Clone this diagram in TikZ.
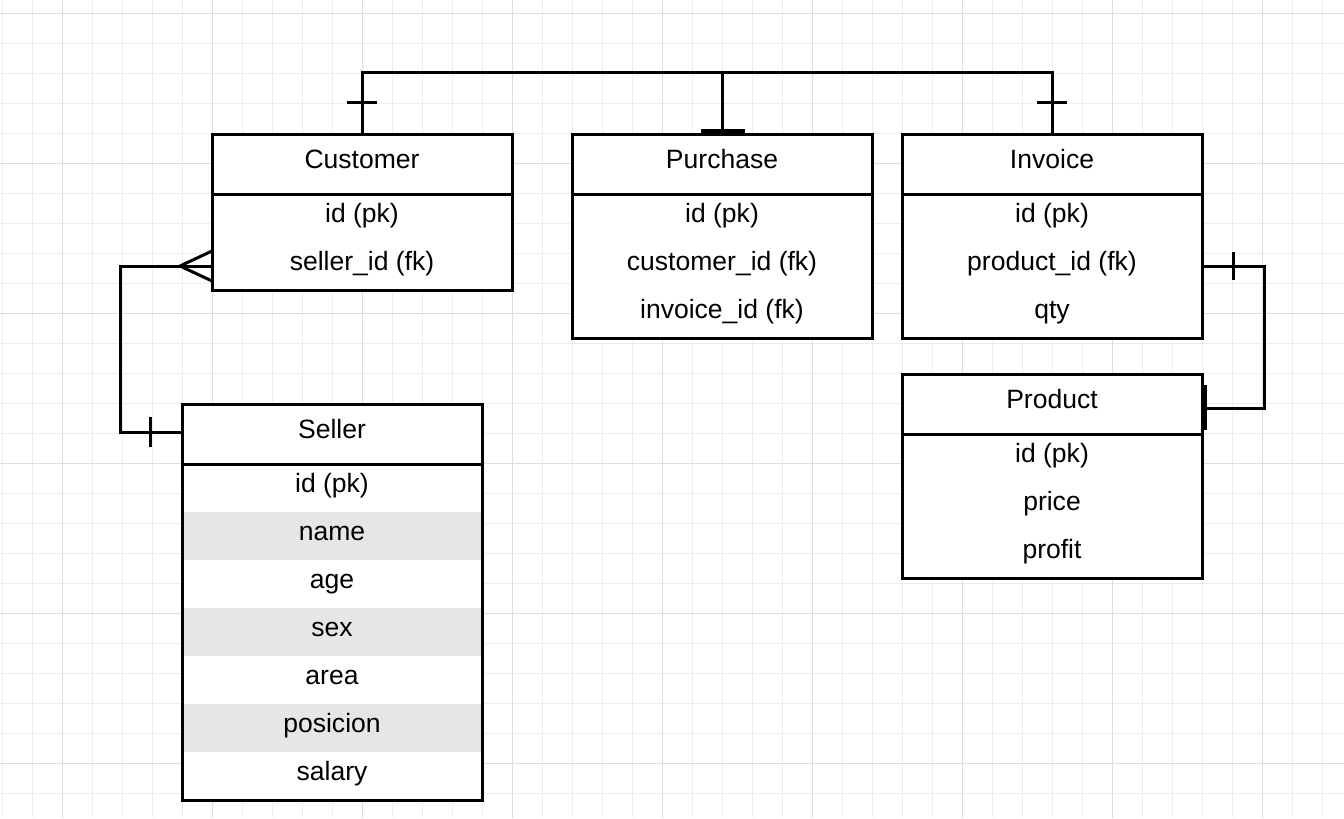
\documentclass[tikz,border=0pt]{standalone}
\usepackage{fontspec}
\setmainfont{Liberation Sans}
\usetikzlibrary{positioning}
\definecolor{gridminor}{HTML}{EDEDED}
\definecolor{gridmajor}{HTML}{DDDDDD}
\definecolor{rowgray}{HTML}{E6E6E6}
\tikzset{
  tablehead/.style={draw, fill=white, line width=2.25pt, minimum width=225pt, minimum height=45pt,
    inner sep=0pt, outer sep=0pt, text height=0.85em, text depth=0.15em},
  tablerow/.style={fill=white, minimum width=225pt, minimum height=36pt,
    inner sep=0pt, outer sep=0pt, text height=0.85em, text depth=0.15em},
  tableline/.style={line width=2.25pt},
  link/.style={line width=2.25pt}
}

\begin{document}
\begin{tikzpicture}[x=0.75pt, y=-0.75pt, font=\fontsize{19.9}{24}\selectfont]
\useasboundingbox (0,0) rectangle (1344,818);
% background grid
\foreach \x in {2.3,32.3,...,1343} \draw[gridminor, line width=0.75pt] (\x,0) -- (\x,818);
\foreach \y in {13.3,43.3,...,817} \draw[gridminor, line width=0.75pt] (0,\y) -- (1344,\y);
\foreach \x in {62.3,212.3,...,1343} \draw[gridmajor, line width=0.75pt] (\x,0) -- (\x,818);
\foreach \y in {13.3,163.3,...,817} \draw[gridmajor, line width=0.75pt] (0,\y) -- (1344,\y);

\begin{scope}
    % Customer
    \node[tablehead] (customer) at (362,164) {Customer};
    \node[tablerow, below=0pt of customer] (customer-1) {id (pk)};
    \node[tablerow, below=0pt of customer-1] (customer-2) {seller\_id (fk)};
    \draw[tableline] (customer-1.north west) rectangle (customer-2.south east);

    % Purchase
    \node[tablehead] (purchase) at (722,164) {Purchase};
    \node[tablerow, below=0pt of purchase] (purchase-1) {id (pk)};
    \node[tablerow, below=0pt of purchase-1] (purchase-2) {customer\_id (fk)};
    \node[tablerow, below=0pt of purchase-2] (purchase-3) {invoice\_id (fk)};
    \draw[tableline] (purchase-1.north west) rectangle (purchase-3.south east);

    % Invoice
    \node[tablehead] (invoice) at (1052,164) {Invoice};
    \node[tablerow, below=0pt of invoice] (invoice-1) {id (pk)};
    \node[tablerow, below=0pt of invoice-1] (invoice-2) {product\_id (fk)};
    \node[tablerow, below=0pt of invoice-2] (invoice-3) {qty};
    \draw[tableline] (invoice-1.north west) rectangle (invoice-3.south east);

    % Product
    \node[tablehead] (product) at (1052,404) {Product};
    \node[tablerow, below=0pt of product] (product-1) {id (pk)};
    \node[tablerow, below=0pt of product-1] (product-2) {price};
    \node[tablerow, below=0pt of product-2] (product-3) {profit};
    \draw[tableline] (product-1.north west) rectangle (product-3.south east);

    % Seller
    \node[tablehead] (seller) at (332,434) {Seller};
    \node[tablerow, below=0pt of seller] (seller-1) {id (pk)};
    \node[tablerow, fill=rowgray, below=0pt of seller-1] (seller-2) {name};
    \node[tablerow, below=0pt of seller-2] (seller-3) {age};
    \node[tablerow, fill=rowgray, below=0pt of seller-3] (seller-4) {sex};
    \node[tablerow, below=0pt of seller-4] (seller-5) {area};
    \node[tablerow, fill=rowgray, below=0pt of seller-5] (seller-6) {posicion};
    \node[tablerow, below=0pt of seller-6] (seller-7) {salary};
    \draw[tableline] (seller-1.north west) rectangle (seller-7.south east);
\end{scope}

% relations over the top
\coordinate (bus) at (0,72);
\draw[link] (customer.north) -- (customer.north |- bus) -- (invoice.north |- bus) -- (invoice.north);
\draw[link] (purchase.north) -- (purchase.north |- bus);
\draw[link] ([shift={(-15,-32)}]customer.north) -- ++(30,0);
\draw[link] ([shift={(-15,-32)}]invoice.north) -- ++(30,0);
\fill ([shift={(-21,0)}]purchase.north) rectangle ++(44,-5);

% customer -- seller
\draw[link] (customer-2.west) -- ++(-92,0) |- ([shift={(0,-2)}]seller.west);
\draw[link] ([shift={(-32,0)}]customer-2.west) -- ([shift={(0,-15)}]customer-2.west);
\draw[link] ([shift={(-32,0)}]customer-2.west) -- ([shift={(0,15)}]customer-2.west);
\draw[link] ([shift={(-32,-17)}]seller.west) -- ++(0,30);

% invoice -- product
\draw[link] (invoice-2.east) -- ++(62,0) |- ([shift={(0,4)}]product.east);
\draw[link] ([shift={(31,-14)}]invoice-2.east) -- ++(0,28);
\fill ([shift={(0,-19)}]product.east) rectangle ++(5,45);
\end{tikzpicture}
\end{document}
